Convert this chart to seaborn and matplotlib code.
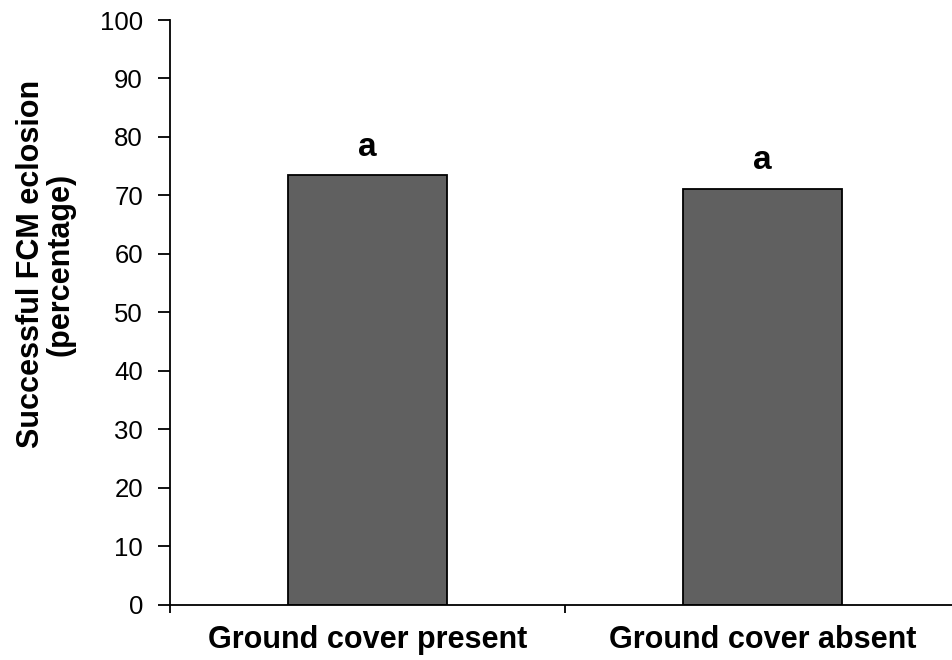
import matplotlib
matplotlib.use("Agg")
import matplotlib.pyplot as plt
import seaborn as sns
import pandas as pd

categories = ["Ground cover present", "Ground cover absent"]
values = [73.4, 71.1]
letters = ["a", "a"]
yticks = [0, 10, 20, 30, 40, 50, 60, 70, 80, 90, 100]

sns.set_style("white")
plt.rcParams['font.family'] = ['Liberation Sans', 'DejaVu Sans']
plt.rcParams['text.color'] = 'black'
plt.rcParams['axes.labelcolor'] = 'black'
plt.rcParams['xtick.color'] = 'black'
plt.rcParams['ytick.color'] = 'black'

df = pd.DataFrame({"cat": categories, "val": values})

fig = plt.figure(figsize=(9.53, 6.6), dpi=100)
ax = fig.add_axes([170/953, 1-604.5/660, 790/953, (604.5-20)/660])
sns.barplot(data=df, x="cat", y="val", ax=ax, color="#606060", width=0.405,
            edgecolor="black", linewidth=1.3, saturation=1)

ax.set_xlim(-0.5, 1.5)
ax.set_ylim(0, 100)
ax.set_yticks(yticks)
ax.set_yticklabels([str(t) for t in yticks], fontsize=18.5)
ax.set_xticks([-0.5, 0.5, 1.5])
ax.set_xticklabels([])
ax.tick_params(axis='y', direction='out', length=8.5, width=1.3, left=True, pad=11)
ax.tick_params(axis='x', direction='out', length=6, width=1.3, bottom=True)
for i, c in enumerate(categories):
    ax.text(i, -7.5, c, ha='center', va='baseline', fontsize=22, fontweight='bold',
            clip_on=False)
for i, (v, l) in enumerate(zip(values, letters)):
    ax.text(i, v + 3.4, l, ha='center', va='baseline', fontsize=24, fontweight='bold')

ax.set_xlabel("")
ax.set_ylabel("")
fig.text(46/953, 1-264/660, "Successful FCM eclosion\n(percentage)", rotation=90,
         ha='center', va='center', multialignment='center', fontsize=22,
         fontweight='bold', linespacing=1.0)
for s in ['top', 'right']:
    ax.spines[s].set_visible(False)
for s in ['left', 'bottom']:
    ax.spines[s].set_linewidth(1.3)
    ax.spines[s].set_color('black')

fig.savefig("out.png", dpi=100)
